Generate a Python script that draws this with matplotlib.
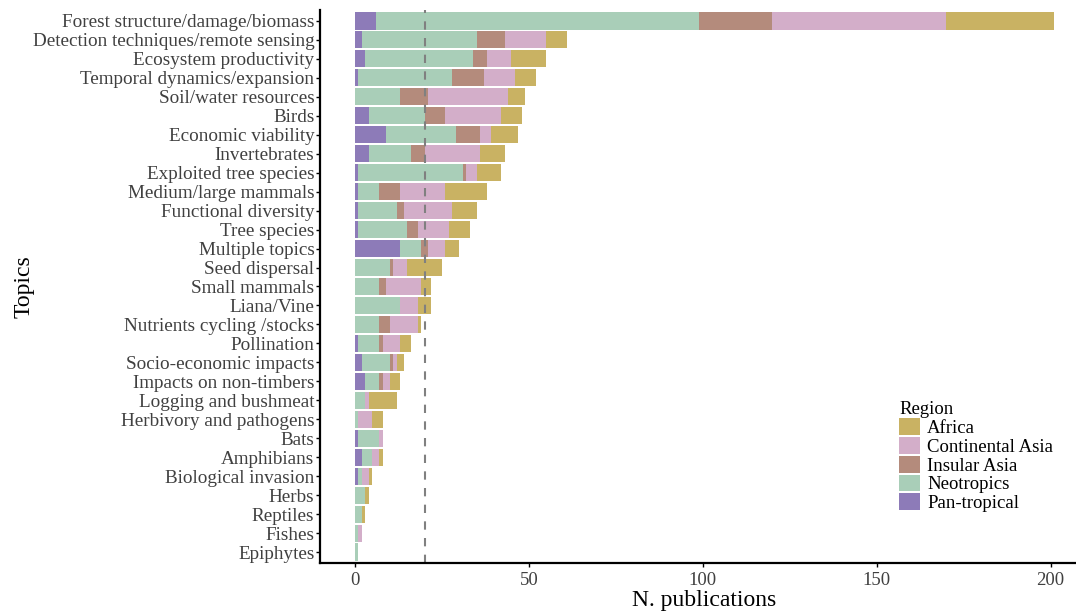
import matplotlib
matplotlib.use("Agg")
import matplotlib.pyplot as plt
from matplotlib.patches import Patch
import numpy as np

topics = ["Forest structure/damage/biomass", "Detection techniques/remote sensing",
          "Ecosystem productivity", "Temporal dynamics/expansion", "Soil/water resources",
          "Birds", "Economic viability", "Invertebrates", "Exploited tree species",
          "Medium/large mammals", "Functional diversity", "Tree species", "Multiple topics",
          "Seed dispersal", "Small mammals", "Liana/Vine", "Nutrients cycling /stocks",
          "Pollination", "Socio-economic impacts", "Impacts on non-timbers",
          "Logging and bushmeat", "Herbivory and pathogens", "Bats", "Amphibians",
          "Biological invasion", "Herbs", "Reptiles", "Fishes", "Epiphytes"]

pan_tropical     = [6, 2, 3, 1, 0, 4, 9, 4, 1, 1, 1, 1, 13, 0, 0, 0, 0, 1, 2, 3, 0, 0, 1, 2, 1, 0, 0, 0, 0]
neotropics       = [93, 33, 31, 27, 13, 16, 20, 12, 30, 6, 11, 14, 6, 10, 7, 13, 7, 6, 8, 4, 3, 1, 6, 3, 1, 3, 2, 1, 1]
insular_asia     = [21, 8, 4, 9, 8, 6, 7, 4, 1, 6, 2, 3, 2, 1, 2, 0, 3, 1, 1, 1, 0, 0, 0, 0, 0, 0, 0, 0, 0]
continental_asia = [50, 12, 7, 9, 23, 16, 3, 16, 3, 13, 14, 9, 5, 4, 10, 5, 8, 5, 1, 2, 1, 4, 1, 2, 2, 0, 0, 1, 0]
africa           = [31, 6, 10, 6, 5, 6, 8, 7, 7, 12, 7, 6, 4, 10, 3, 4, 1, 3, 2, 3, 8, 3, 0, 1, 1, 1, 1, 0, 0]

ref_line = 20

series = [("Pan-tropical", pan_tropical, "#8D7BB8"),
          ("Neotropics", neotropics, "#A9CEB8"),
          ("Insular Asia", insular_asia, "#B48B7C"),
          ("Continental Asia", continental_asia, "#D3AEC9"),
          ("Africa", africa, "#C9B263")]

plt.rcParams['font.family'] = ['Liberation Serif', 'DejaVu Serif']

fig = plt.figure(figsize=(10.76, 6.13), dpi=100)
W, H = 1076, 613
left_px, right_px, top_px, bot_px = 320, 1089, 9.6, 563.4
ax = fig.add_axes([left_px / W, 1 - bot_px / H, (right_px - left_px) / W, (bot_px - top_px) / H])

n = len(topics)
y = np.arange(n)[::-1]
left = np.zeros(n)
for name, vals, col in series:
    v = np.array(vals, dtype=float)
    ax.barh(y, v, left=left, height=0.9, color=col, edgecolor='none', label=name)
    left += v

ax.axvline(ref_line, color='#808080', linestyle=(0, (4, 4)), linewidth=1.5)

ax.set_xlim(-10.05, 211.05)
ax.set_ylim(-0.6, n - 1 + 0.6)
ax.set_yticks(y)
ax.set_yticklabels(topics)
ax.set_xticks([0, 50, 100, 150, 200])

for s in ['top', 'right']:
    ax.spines[s].set_visible(False)
for s in ['left', 'bottom']:
    ax.spines[s].set_linewidth(1.6)
    ax.spines[s].set_color('black')

ax.tick_params(axis='both', length=3, width=1, color='black', labelcolor='#404040')
ax.tick_params(axis='y', labelsize=13.8, pad=1)
ax.tick_params(axis='x', labelsize=13.5, pad=3)

ax.set_xlabel("N. publications", fontsize=17, labelpad=1)
ax.set_ylabel("Topics", fontsize=17, labelpad=-1)

handles = [Patch(facecolor=c, edgecolor='none') for _, _, c in series[::-1]]
labels = [nm for nm, _, _ in series[::-1]]
leg = fig.legend(handles, labels, title="Region", loc='upper left',
                 bbox_to_anchor=(886 / W, 1 - 388 / H), frameon=False,
                 fontsize=13.5, title_fontsize=13.5, alignment='left',
                 handlelength=1.1, handleheight=1.0, handletextpad=0.4,
                 labelspacing=0.0, borderpad=0.2)

fig.savefig("out.png", dpi=100)
